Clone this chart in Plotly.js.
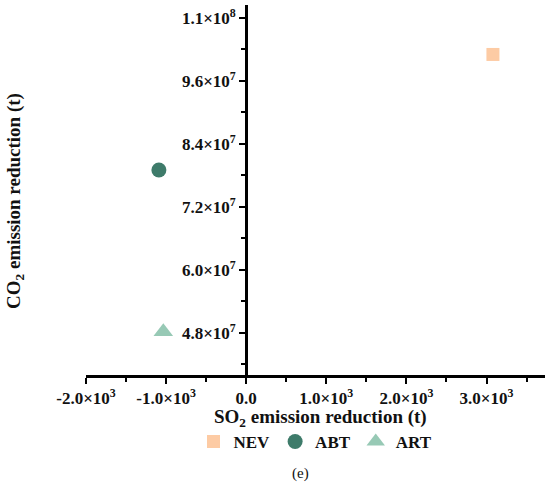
<!DOCTYPE html>
<html>
<head>
<meta charset="utf-8">
<script src="https://cdn.plot.ly/plotly-3.0.1.min.js"></script>
<style>
  body { margin: 0; background: #fff; }
  #chartDiv { width: 550px; height: 485px; }
</style>
</head>
<body>
<div id="chartDiv"></div>
<script>
// chart values
var seriesNames = ['NEV', 'ABT', 'ART'];
var so2Reduction = [3080, -1090, -1035];        // t
var co2Reduction = [1.010e8, 7.90e7, 4.82e7];   // t
var seriesColors = ['#FDCBA4', '#3E7B6A', '#97C9B5'];
var seriesSymbols = ['square', 'circle', 'triangle-up'];
var seriesSizes = [13, 15, 17];

var xTickVals = [-2000, -1000, 0, 1000, 2000, 3000];
var xTickText = ['-2.0×10<sup>3</sup>', '-1.0×10<sup>3</sup>', '0.0',
                 '1.0×10<sup>3</sup>', '2.0×10<sup>3</sup>', '3.0×10<sup>3</sup>'];
var xMinorVals = [-1500, -500, 500, 1500, 2500, 3500];
var yTickVals = [4.8e7, 6.0e7, 7.2e7, 8.4e7, 9.6e7, 1.08e8];
var yTickText = ['4.8×10<sup>7</sup>', '6.0×10<sup>7</sup>', '7.2×10<sup>7</sup>',
                 '8.4×10<sup>7</sup>', '9.6×10<sup>7</sup>', '1.1×10<sup>8</sup>'];
var yMinorVals = [4.2e7, 5.4e7, 6.6e7, 7.8e7, 9.0e7, 1.02e8];

var xRange = [-2000, 3730];
var yRange = [3.994e7, 1.1042e8];

var serif = 'Liberation Serif, Times New Roman, serif';
var tickFont = { family: serif, size: 17, color: '#111', weight: 'bold' };

var data = [];
for (var i = 0; i < seriesNames.length; i++) {
    data.push({
        x: [so2Reduction[i]],
        y: [co2Reduction[i]],
        mode: 'markers',
        type: 'scatter',
        name: seriesNames[i],
        marker: { color: seriesColors[i], symbol: seriesSymbols[i], size: seriesSizes[i], line: { width: 0 } }
    });
}

var layout = {
    width: 550,
    height: 485,
    margin: { l: 86, r: 5, t: 5, b: 110 },
    paper_bgcolor: '#fff',
    plot_bgcolor: '#fff',
    font: { family: serif, size: 17, color: '#111', weight: 'bold' },
    showlegend: true,
    legend: {
        orientation: 'h',
        x: 0.5, xanchor: 'center',
        y: -0.181, yanchor: 'middle',
        font: { family: serif, size: 17, color: '#111', weight: 'bold' },
        itemwidth: 30,
        tracegroupgap: 0
    },
    xaxis: {
        range: xRange,
        anchor: 'y',
        showgrid: false,
        zeroline: false,
        showline: true,
        linecolor: '#000',
        linewidth: 2.5,
        ticks: 'outside',
        ticklen: 6,
        tickwidth: 2,
        tickcolor: '#000',
        tickmode: 'array',
        tickvals: xTickVals,
        ticktext: xTickText,
        tickfont: tickFont,
        minor: { tickvals: xMinorVals, ticks: 'outside', ticklen: 4, tickwidth: 2, tickcolor: '#000' }
    },
    yaxis: {
        range: yRange,
        anchor: 'free',
        position: (0 - xRange[0]) / (xRange[1] - xRange[0]),
        showgrid: false,
        zeroline: false,
        showline: true,
        linecolor: '#000',
        linewidth: 2.5,
        ticks: 'outside',
        ticklen: 6,
        tickwidth: 2,
        tickcolor: '#000',
        tickmode: 'array',
        tickvals: yTickVals,
        ticktext: yTickText,
        tickfont: tickFont,
        minor: { tickvals: yMinorVals, ticks: 'outside', ticklen: 4, tickwidth: 2, tickcolor: '#000' }
    },
    annotations: [
        { // x axis title
            text: 'SO<sub>2</sub> emission reduction (t)',
            xref: 'paper', yref: 'paper',
            x: 0.51, y: -0.116, xanchor: 'center', yanchor: 'middle',
            showarrow: false,
            font: { family: serif, size: 19, color: '#111', weight: 'bold' }
        },
        { // y axis title, far to the left
            text: 'CO<sub>2</sub> emission reduction (t)',
            xref: 'paper', yref: 'paper',
            x: -0.155, y: 0.47, xanchor: 'center', yanchor: 'middle',
            textangle: -90,
            showarrow: false,
            font: { family: serif, size: 19, color: '#111', weight: 'bold' }
        },
        { // panel label
            text: '(e)',
            xref: 'paper', yref: 'paper',
            x: 0.468, y: -0.265, xanchor: 'center', yanchor: 'middle',
            showarrow: false,
            font: { family: serif, size: 15, color: '#111', weight: 'normal' }
        }
    ]
};

Plotly.newPlot('chartDiv', data, layout, { displayModeBar: false, staticPlot: true });
</script>
</body>
</html>
